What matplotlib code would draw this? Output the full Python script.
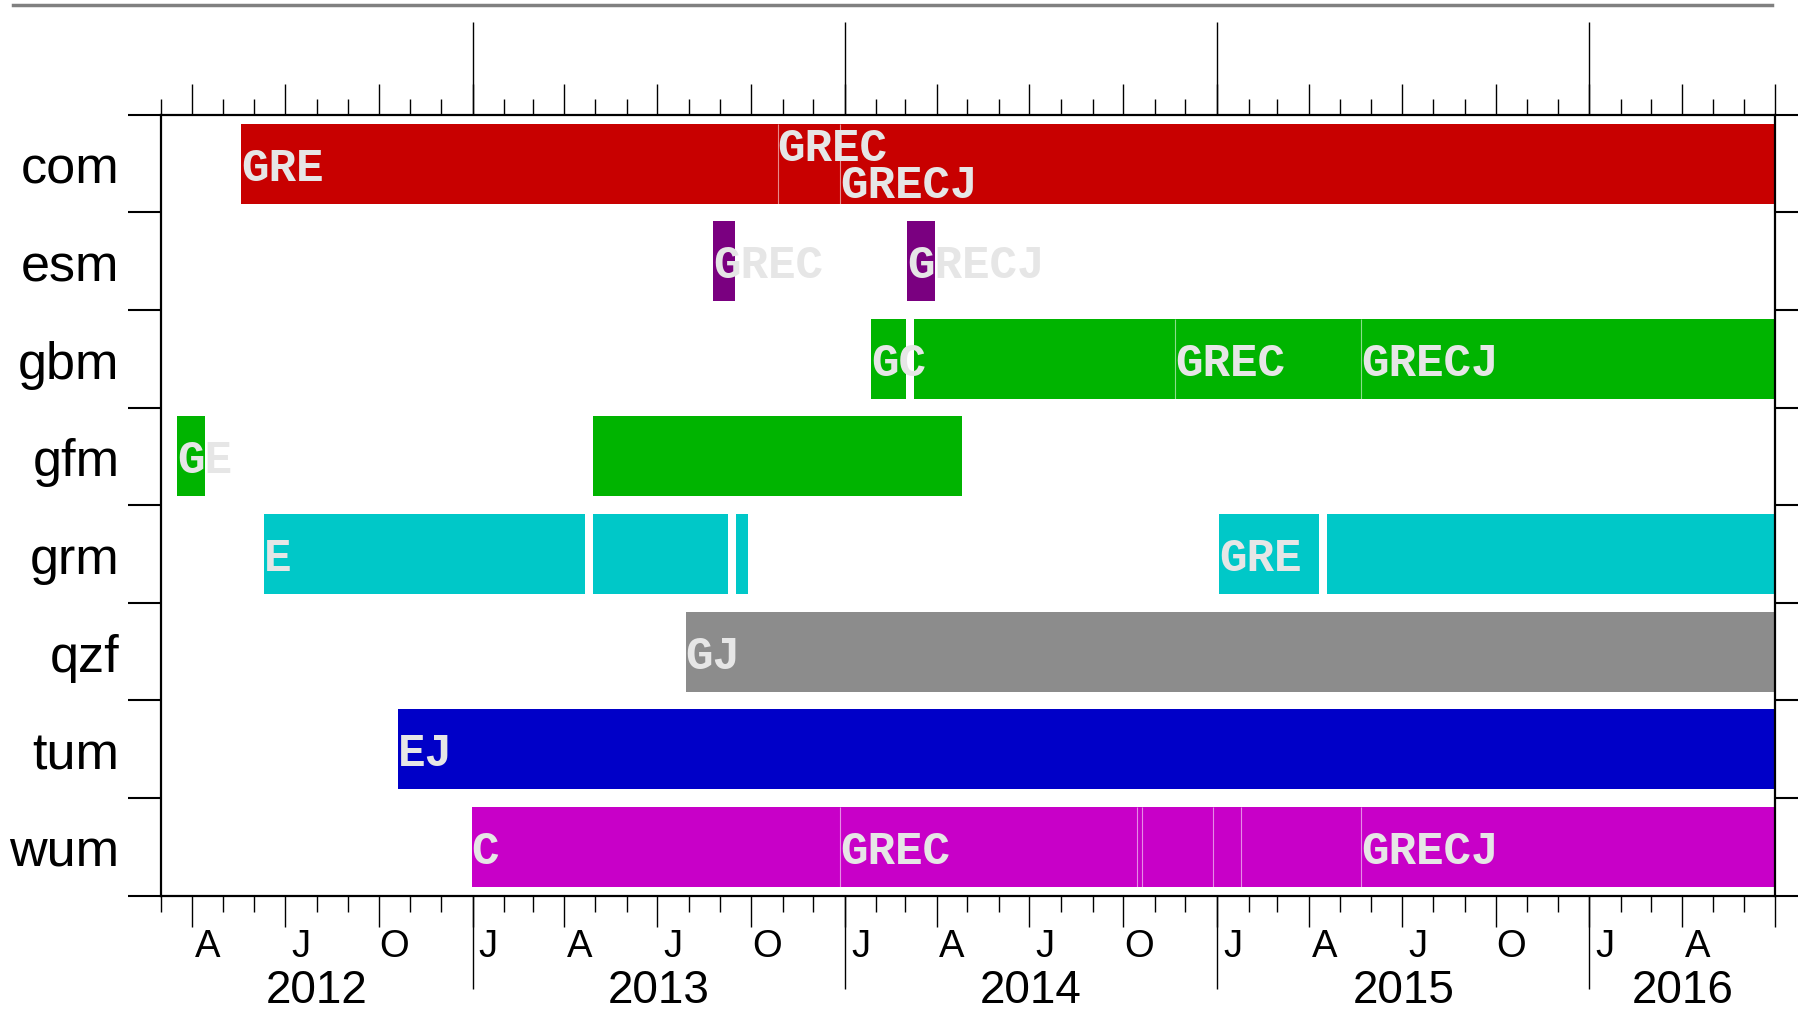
import numpy as np
import matplotlib
matplotlib.use("Agg")
import matplotlib.pyplot as plt
import matplotlib.dates as mdates
from matplotlib.lines import Line2D
from matplotlib.ticker import NullLocator

# Analysis centres (rows, top to bottom) and their bar colours
stations = ["com", "esm", "gbm", "gfm", "grm", "qzf", "tum", "wum"]
colors = ["#c80000", "#7a0080", "#00b400", "#00b400",
          "#00c8c8", "#8c8c8c", "#0000c8", "#c800c8"]

X_START = "2012-03-01"
X_END = "2016-07-01"

# Product periods: centre, first day, last day, GNSS systems, label shift (rows)
seg_station = ["com", "com", "com",
               "esm", "esm",
               "gbm", "gbm", "gbm", "gbm",
               "gfm", "gfm",
               "grm", "grm", "grm", "grm", "grm",
               "qzf",
               "tum",
               "wum", "wum", "wum", "wum", "wum", "wum", "wum"]
seg_start = ["2012-05-19", "2013-10-27", "2013-12-27",
             "2013-08-25", "2014-03-03",
             "2014-01-27", "2014-03-10", "2014-11-21", "2015-05-22",
             "2012-03-17", "2013-04-29",
             "2012-06-10", "2013-04-29", "2013-09-16", "2015-01-03", "2015-04-19",
             "2013-07-29",
             "2012-10-20",
             "2012-12-31", "2013-12-27", "2014-10-14", "2014-10-19",
             "2014-12-28", "2015-01-24", "2015-05-22"]
seg_end = ["2013-10-27", "2013-12-27", X_END,
           "2013-09-15", "2014-03-30",
           "2014-03-02", "2014-11-21", "2015-05-22", X_END,
           "2012-04-14", "2014-04-26",
           "2013-04-21", "2013-09-08", "2013-09-28", "2015-04-11", X_END,
           X_END,
           X_END,
           "2013-12-27", "2014-10-14", "2014-10-19", "2014-12-28",
           "2015-01-24", "2015-05-22", X_END]
seg_label = ["GRE", "GREC", "GRECJ",
             "GREC", "GRECJ",
             "GC", "", "GREC", "GRECJ",
             "GE", "",
             "E", "", "", "GRE", "",
             "GJ",
             "EJ",
             "C", "GREC", "", "", "", "", "GRECJ"]
seg_label_dy = [0.04, -0.16, 0.215,
                0.04, 0.04,
                0.04, 0.0, 0.04, 0.04,
                0.04, 0.0,
                0.04, 0.0, 0.0, 0.04, 0.0,
                0.04,
                0.04,
                0.04, 0.04, 0.0, 0.0, 0.0, 0.0, 0.04]

month_letters = {1: "J", 4: "A", 7: "J", 10: "O"}

W, H, DPI = 1798, 1012, 100
fig = plt.figure(figsize=(W / DPI, H / DPI), dpi=DPI)
fig.patch.set_facecolor("white")

left_px, right_px, top_px, bottom_px = 160.5, 1775.0, 115.8, 896.7
ax = fig.add_axes([left_px / W, 1 - bottom_px / H,
                   (right_px - left_px) / W, (bottom_px - top_px) / H])

d2n = lambda s: mdates.date2num(np.datetime64(s))
xmin, xmax = d2n(X_START), d2n(X_END)

BAR_H = 0.82
row_of = {s: i for i, s in enumerate(stations)}
for k, st in enumerate(seg_station):
    r = row_of[st]
    x0, x1 = d2n(seg_start[k]), d2n(seg_end[k])
    ax.barh(r + 0.5, x1 - x0, left=x0, height=BAR_H,
            color=colors[r], linewidth=0, zorder=2)
    # thin divider where one period is followed directly by the next
    if k + 1 < len(seg_station) and seg_station[k + 1] == st \
            and seg_start[k + 1] == seg_end[k]:
        ax.plot([x1, x1], [r + 0.5 - BAR_H / 2, r + 0.5 + BAR_H / 2],
                color="white", alpha=0.55, lw=0.8, zorder=3,
                solid_capstyle="butt")
for k, st in enumerate(seg_station):
    if seg_label[k]:
        r = row_of[st]
        ax.text(d2n(seg_start[k]), r + 0.5 + seg_label_dy[k], seg_label[k],
                ha="left", va="center", fontsize=33,
                family="Liberation Mono", fontweight="bold",
                color="#e6e6e6", zorder=4, clip_on=False)

ax.set_xlim(xmin, xmax)
ax.set_ylim(len(stations), 0)

for s in ax.spines.values():
    s.set_linewidth(1.6)
    s.set_color("black")

# rows: labels at the centres, ticks at the boundaries on both sides
ax.set_yticks(np.arange(len(stations)) + 0.5)
ax.set_yticklabels(stations, fontsize=37.5, family="Liberation Sans")
ax.set_yticks(np.arange(len(stations) + 1), minor=True)
ax.tick_params(axis="y", which="major", length=0, pad=29.5)
ax.tick_params(axis="y", which="minor", length=24, width=1.5,
               direction="out", left=True, right=True)

# time axis: monthly minor ticks, quarterly major ticks, top and bottom
months = np.arange("2012-03", "2016-08", dtype="datetime64[M]")
month_num = months.astype(int) % 12 + 1
quarters = months[np.isin(month_num, [1, 4, 7, 10])]
years = months[month_num == 1]
ax.set_xticks(mdates.date2num(quarters.astype("datetime64[D]")))
ax.set_xticks(mdates.date2num(months.astype("datetime64[D]")), minor=True)
ax.tick_params(axis="x", which="major", length=22.5, width=1.0,
               direction="out", top=True, bottom=True,
               labelbottom=False, labeltop=False)
ax.tick_params(axis="x", which="minor", length=11.5, width=1.0,
               direction="out", top=True, bottom=True)


def plain_secondary(loc):
    sec = ax.secondary_xaxis(loc)
    for sp in sec.spines.values():
        sp.set_visible(False)
    sec.xaxis.set_minor_locator(NullLocator())
    return sec


year_ticks = mdates.date2num(years.astype("datetime64[D]"))
for loc in ("top", "bottom"):
    sec = plain_secondary(loc)
    sec.set_xticks(year_ticks)
    sec.tick_params(axis="x", length=67, width=1.0, direction="out",
                    labelbottom=False, labeltop=False)

# month letters centred on the quarter months
q_start = quarters.astype("datetime64[D]")
q_next = (quarters + 1).astype("datetime64[D]")
q_mid = (mdates.date2num(q_start) + mdates.date2num(q_next)) / 2
q_lab = [month_letters[m] for m in quarters.astype(int) % 12 + 1]
sec = plain_secondary("bottom")
sec.set_xticks(q_mid)
sec.set_xticklabels(q_lab, fontsize=27.5, family="Liberation Sans")
sec.tick_params(axis="x", length=0, pad=23.5)

# year labels centred on the visible part of each year
yr_first = np.arange(2012, 2017)
yr_mid = []
for y in yr_first:
    a = max(d2n(f"{y}-01-01"), xmin)
    b = min(d2n(f"{y + 1}-01-01"), xmax)
    yr_mid.append((a + b) / 2)
sec = plain_secondary("bottom")
sec.set_xticks(yr_mid)
sec.set_xticklabels([str(y) for y in yr_first], fontsize=33,
                    family="Liberation Sans")
sec.tick_params(axis="x", length=0, pad=52)

fig.add_artist(Line2D([12.6 / W, 1772 / W], [1 - 5.7 / H] * 2,
                      color="#808080", lw=2.5))

fig.savefig("out.png", dpi=DPI, facecolor="white")
